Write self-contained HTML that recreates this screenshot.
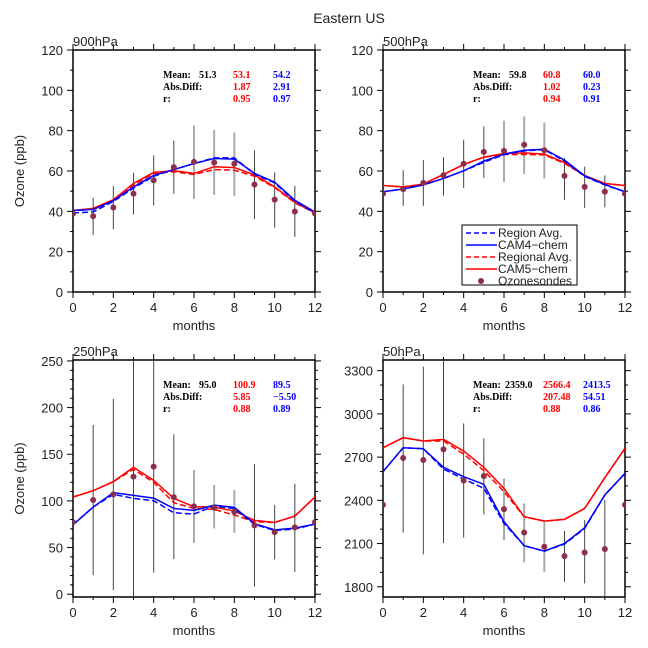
<!DOCTYPE html>
<html><head><meta charset="utf-8">
<style>
html,body{margin:0;padding:0;background:#fff;}
svg{display:block;font-family:"Liberation Sans",sans-serif;}
.st{font-family:"Liberation Serif",serif;font-size:10px;font-weight:bold;}
</style></head>
<body>
<svg id="chart" width="648" height="648" viewBox="0 0 648 648">
<text x="349" y="23" text-anchor="middle" font-size="14" fill="#222">Eastern US</text>
</svg>
<script>
const months = [0,1,2,3,4,5,6,7,8,9,10,11,12];
// 900hPa
const obs900 = [38.9,37.6,41.9,48.8,55.4,61.9,64.5,64.2,63.6,53.3,45.8,39.9,38.9];
const errHi900 = [null,46.7,52.5,59.1,67.7,75.1,82.6,80.3,79.1,70.3,59.3,52.6,null];
const errLo900 = [null,28.3,31.1,38.4,42.9,48.7,46.2,48.2,47.7,36.2,31.9,27.3,null];
const cam4_900 = [40.4,40.9,45.3,52.1,57.8,60.7,63.7,66.2,65.9,58.8,54.5,45.5,39.7];
const reg4_900 = [39.2,39.7,44.9,51.5,57.4,60.7,63.7,66.5,66.5,58.4,54.1,45.0,39.2];
const cam5_900 = [40.4,41.5,45.8,53.8,59.3,60.1,58.8,62.1,61.7,58.1,52.1,44.5,39.2];
const reg5_900 = [40.4,41.0,45.3,53.0,58.8,59.6,58.3,60.7,60.4,57.4,51.8,44.2,39.2];
const stats900 = ["51.3","53.1","54.2","1.87","2.91","0.95","0.97"];
// 500hPa
const obs500 = [48.8,51.0,54.1,57.9,63.6,69.5,70.0,73.0,70.3,57.6,52.1,49.8,48.8];
const errHi500 = [null,60.4,65.4,66.9,75.5,82.1,84.9,87.1,84.1,66.4,62.1,57.8,null];
const errLo500 = [null,42.7,42.7,47.8,51.6,56.6,54.6,58.6,56.3,45.7,41.7,42.0,null];
const cam4_500 = [49.7,51.1,53.1,56.3,60.1,64.9,68.4,70.3,70.8,65.4,57.6,53.3,49.7];
const reg4_500 = [49.7,51.1,53.1,56.3,60.1,64.3,68.1,70.0,70.6,65.0,57.3,53.1,49.7];
const cam5_500 = [52.8,52.1,53.5,58.3,63.2,66.9,68.7,69.0,68.4,64.2,57.8,53.8,52.8];
const reg5_500 = [52.8,52.1,53.5,58.3,63.2,66.9,68.2,68.2,68.0,63.8,57.6,53.8,52.8];
const stats500 = ["59.8","60.8","60.0","1.02","0.23","0.94","0.91"];
// 250hPa
const obs250 = [77.3,100.9,107,126,136.7,104.1,94.1,92.7,88.4,73.7,66.5,71.6,77.3];
const errHi250 = [null,181.4,209.3,270,250,171.4,133,117,111.6,139.5,95.5,118.4,null];
const errLo250 = [null,20.4,4.3,-10,23.3,37.6,55,70.5,65.8,7.9,37.2,24,null];
const cam4_250 = [74.4,93.4,108.8,105.9,103,91.9,89.8,95.5,93,75.5,69,70.8,75.1];
const reg4_250 = [74.4,93.4,107,102.7,100.2,87.3,85.9,94.5,91.9,74.8,68.3,69.8,75.1];
const cam5_250 = [104.1,110.9,120.6,136,122,102.7,93.7,93.4,89.1,79.1,76.9,83.7,104.1];
const reg5_250 = [104.1,110.9,120.6,133.8,119.9,98,91.9,90.9,84.8,77.6,76.9,83.7,104.1];
const stats250 = ["95.0","100.9","89.5","5.85","\u22125.50","0.88","0.89"];
// 50hPa
const obs50 = [2369,2694,2680,2754,2538,2569,2339,2177,2078,2013,2038,2062,2369];
const errHi50 = [null,3205,3328,3420,2934,2830,2552,2379,2251,2187,2263,2402,null];
const errLo50 = [null,2177,2025,2103,2140,2302,2124,1969,1904,1835,1823,1700,null];
const cam4_50 = [2599,2765,2758,2629,2564,2511,2251,2085,2048,2101,2210,2437,2587];
const reg4_50 = [2599,2765,2758,2617,2548,2483,2240,2085,2048,2096,2205,2437,2587];
const cam5_50 = [2765,2835,2812,2823,2742,2629,2483,2286,2256,2268,2344,2557,2761];
const reg5_50 = [2765,2835,2812,2812,2721,2606,2460,2286,2256,2268,2344,2557,2761];
const stats50 = ["2359.0","2566.4","2413.5","207.48","54.51","0.88","0.86"];
const lightBars = [6,7,8];

const NS="http://www.w3.org/2000/svg";
const svg=document.getElementById('chart');
function mk(tag,attrs,parent){const e=document.createElementNS(NS,tag);for(const k in attrs)e.setAttribute(k,attrs[k]);(parent||svg).appendChild(e);return e;}

function panel(p){
  const g=mk('g',{});
  
  
  const x0=p.x,x1=p.x+242,yT=p.y,yB=p.y+p.h;
  const sx=m=>x0+(m-0)/12*(x1-x0);
  const sy=v=>yB-(v-p.ymin)/(p.ymax-p.ymin)*(yB-yT);
  const cid='clip-'+p.name;
  const cp=mk('clipPath',{id:cid},g);mk('rect',{x:x0,y:yT,width:x1-x0,height:yB-yT},cp);
  for(let m=0;m<=12;m++){
    const L=m%2===0?6:3;
    mk('line',{x1:sx(m),x2:sx(m),y1:yB,y2:yB+L,stroke:'#000','stroke-width':1},g);
    mk('line',{x1:sx(m),x2:sx(m),y1:yT,y2:yT-L,stroke:'#000','stroke-width':1},g);
    if(m%2===0){const t=mk('text',{x:sx(m),y:yB+20,'text-anchor':'middle','font-size':13,fill:'#222'},g);t.textContent=m;
      
      }
  }
  for(let v=p.tickStart;v<=p.ymax;v+=p.minor){
    if(v<p.ymin)continue;
    const major=Math.abs(((v-p.tickStart)/p.major)-Math.round((v-p.tickStart)/p.major))<1e-6;
    const L=major?6:3;
    mk('line',{x1:x0,x2:x0-L,y1:sy(v),y2:sy(v),stroke:'#000','stroke-width':1},g);
    mk('line',{x1:x1,x2:x1+L,y1:sy(v),y2:sy(v),stroke:'#000','stroke-width':1},g);
    if(major){const t=mk('text',{x:x0-10,y:sy(v)+5,'text-anchor':'end','font-size':13,fill:'#222'},g);t.textContent=v;
      
      }
  }
  mk('rect',{x:x0,y:yT,width:x1-x0,height:yB-yT,fill:'none',stroke:'#000','stroke-width':1.5},g);
  const lab=mk('text',{x:x0,y:yT-4,'font-size':13,fill:'#222'},g);lab.textContent=p.name;
  
  
  const xt=mk('text',{x:(x0+x1)/2,y:yB+38,'text-anchor':'middle','font-size':13,fill:'#222'},g);xt.textContent='months';
  
  
  if(p.ytitle){const yt=mk('text',{x:24,y:(yT+yB)/2,'text-anchor':'middle','font-size':13,fill:'#222',transform:`rotate(-90 24 ${(yT+yB)/2})`},g);yt.textContent='Ozone (ppb)';
    
    }
  const pg=mk('g',{'clip-path':`url(#${cid})`},g);
  for(let i=0;i<months.length;i++){
    if(p.hi[i]==null)continue;
    const b=mk('line',{x1:sx(months[i]),x2:sx(months[i]),y1:sy(p.hi[i]),y2:sy(p.lo[i]),stroke:lightBars.includes(i)?'#aaa':'#444','stroke-width':lightBars.includes(i)?2:1},pg);
    
    
  }
  const line=(arr,col,dash,nm)=>{
    const l=mk('polyline',{points:arr.map((v,i)=>sx(months[i])+','+sy(v)).join(' '),fill:'none',stroke:col,'stroke-width':1.5,'stroke-dasharray':dash||'none'},pg);
    
    
  };
  line(p.reg5,'#f00','6,3','regional-avg-cam5-line');
  line(p.cam5,'#f00',null,'cam5-chem-line');
  line(p.reg4,'#00f','6,3','region-avg-cam4-line');
  line(p.cam4,'#00f',null,'cam4-chem-line');
  for(let i=0;i<months.length;i++){
    const c=mk('circle',{cx:sx(months[i]),cy:sy(p.obs[i]),r:3,fill:'#8b2f4a'},pg);
    
    
  }
  const s=p.stats, bx=x0+90, rows=[["Mean:",s[0],s[1],s[2]],["Abs.Diff:","",s[3],s[4]],["r:","",s[5],s[6]]];
  rows.forEach((r,k)=>{
    const yy=yT+28+k*12;
    const a=mk('text',{x:bx,y:yy,class:'st'},g);a.textContent=r[0];
    
    
    if(r[1]){const b=mk('text',{x:bx+p.off,y:yy,class:'st'},g);b.textContent=r[1];
      
      }
    const c=mk('text',{x:bx+70,y:yy,class:'st',fill:'#f00'},g);c.textContent=r[2];
    
    
    const d=mk('text',{x:bx+110,y:yy,class:'st',fill:'#00f'},g);d.textContent=r[3];
    
    
  });
}
panel({name:'900hPa',x:73,y:50,h:242,ymin:0,ymax:120,tickStart:0,major:20,minor:10,ytitle:true,off:36,obs:obs900,hi:errHi900,lo:errLo900,cam4:cam4_900,reg4:reg4_900,cam5:cam5_900,reg5:reg5_900,stats:stats900});
panel({name:'500hPa',x:383,y:50,h:242,ymin:0,ymax:120,tickStart:0,major:20,minor:10,ytitle:false,off:36,obs:obs500,hi:errHi500,lo:errLo500,cam4:cam4_500,reg4:reg4_500,cam5:cam5_500,reg5:reg5_500,stats:stats500});
panel({name:'250hPa',x:73,y:360,h:237,ymin:-3,ymax:251,tickStart:0,major:50,minor:10,ytitle:true,off:36,obs:obs250,hi:errHi250,lo:errLo250,cam4:cam4_250,reg4:reg4_250,cam5:cam5_250,reg5:reg5_250,stats:stats250});
panel({name:'50hPa',x:383,y:360,h:237,ymin:1729,ymax:3374,tickStart:1800,major:300,minor:100,ytitle:false,off:32,obs:obs50,hi:errHi50,lo:errLo50,cam4:cam4_50,reg4:reg4_50,cam5:cam5_50,reg5:reg5_50,stats:stats50});

const lg=mk('g',{});


mk('rect',{x:462,y:225,width:115,height:60,fill:'#fff',stroke:'#000','stroke-width':1},lg);
const entries=[['Region Avg.','#00f','5,3','line'],['CAM4\u2212chem','#00f',null,'line'],['Regional Avg.','#f00','5,3','line'],['CAM5\u2212chem','#f00',null,'line'],['Ozonesondes','#8b2f4a',null,'dot']];
entries.forEach((e,k)=>{
  const yy=233+k*12;
  const eg=mk('g',{},lg);
  
  
  if(e[3]==='line')mk('line',{x1:466,x2:497,y1:yy,y2:yy,stroke:e[1],'stroke-width':1.5,'stroke-dasharray':e[2]||'none'},eg);
  else mk('circle',{cx:481,cy:yy,r:3,fill:e[1]},eg);
  const t=mk('text',{x:498,y:yy+4,'font-size':12,fill:'#222'},eg);t.textContent=e[0];
});
</script>
</body></html>
